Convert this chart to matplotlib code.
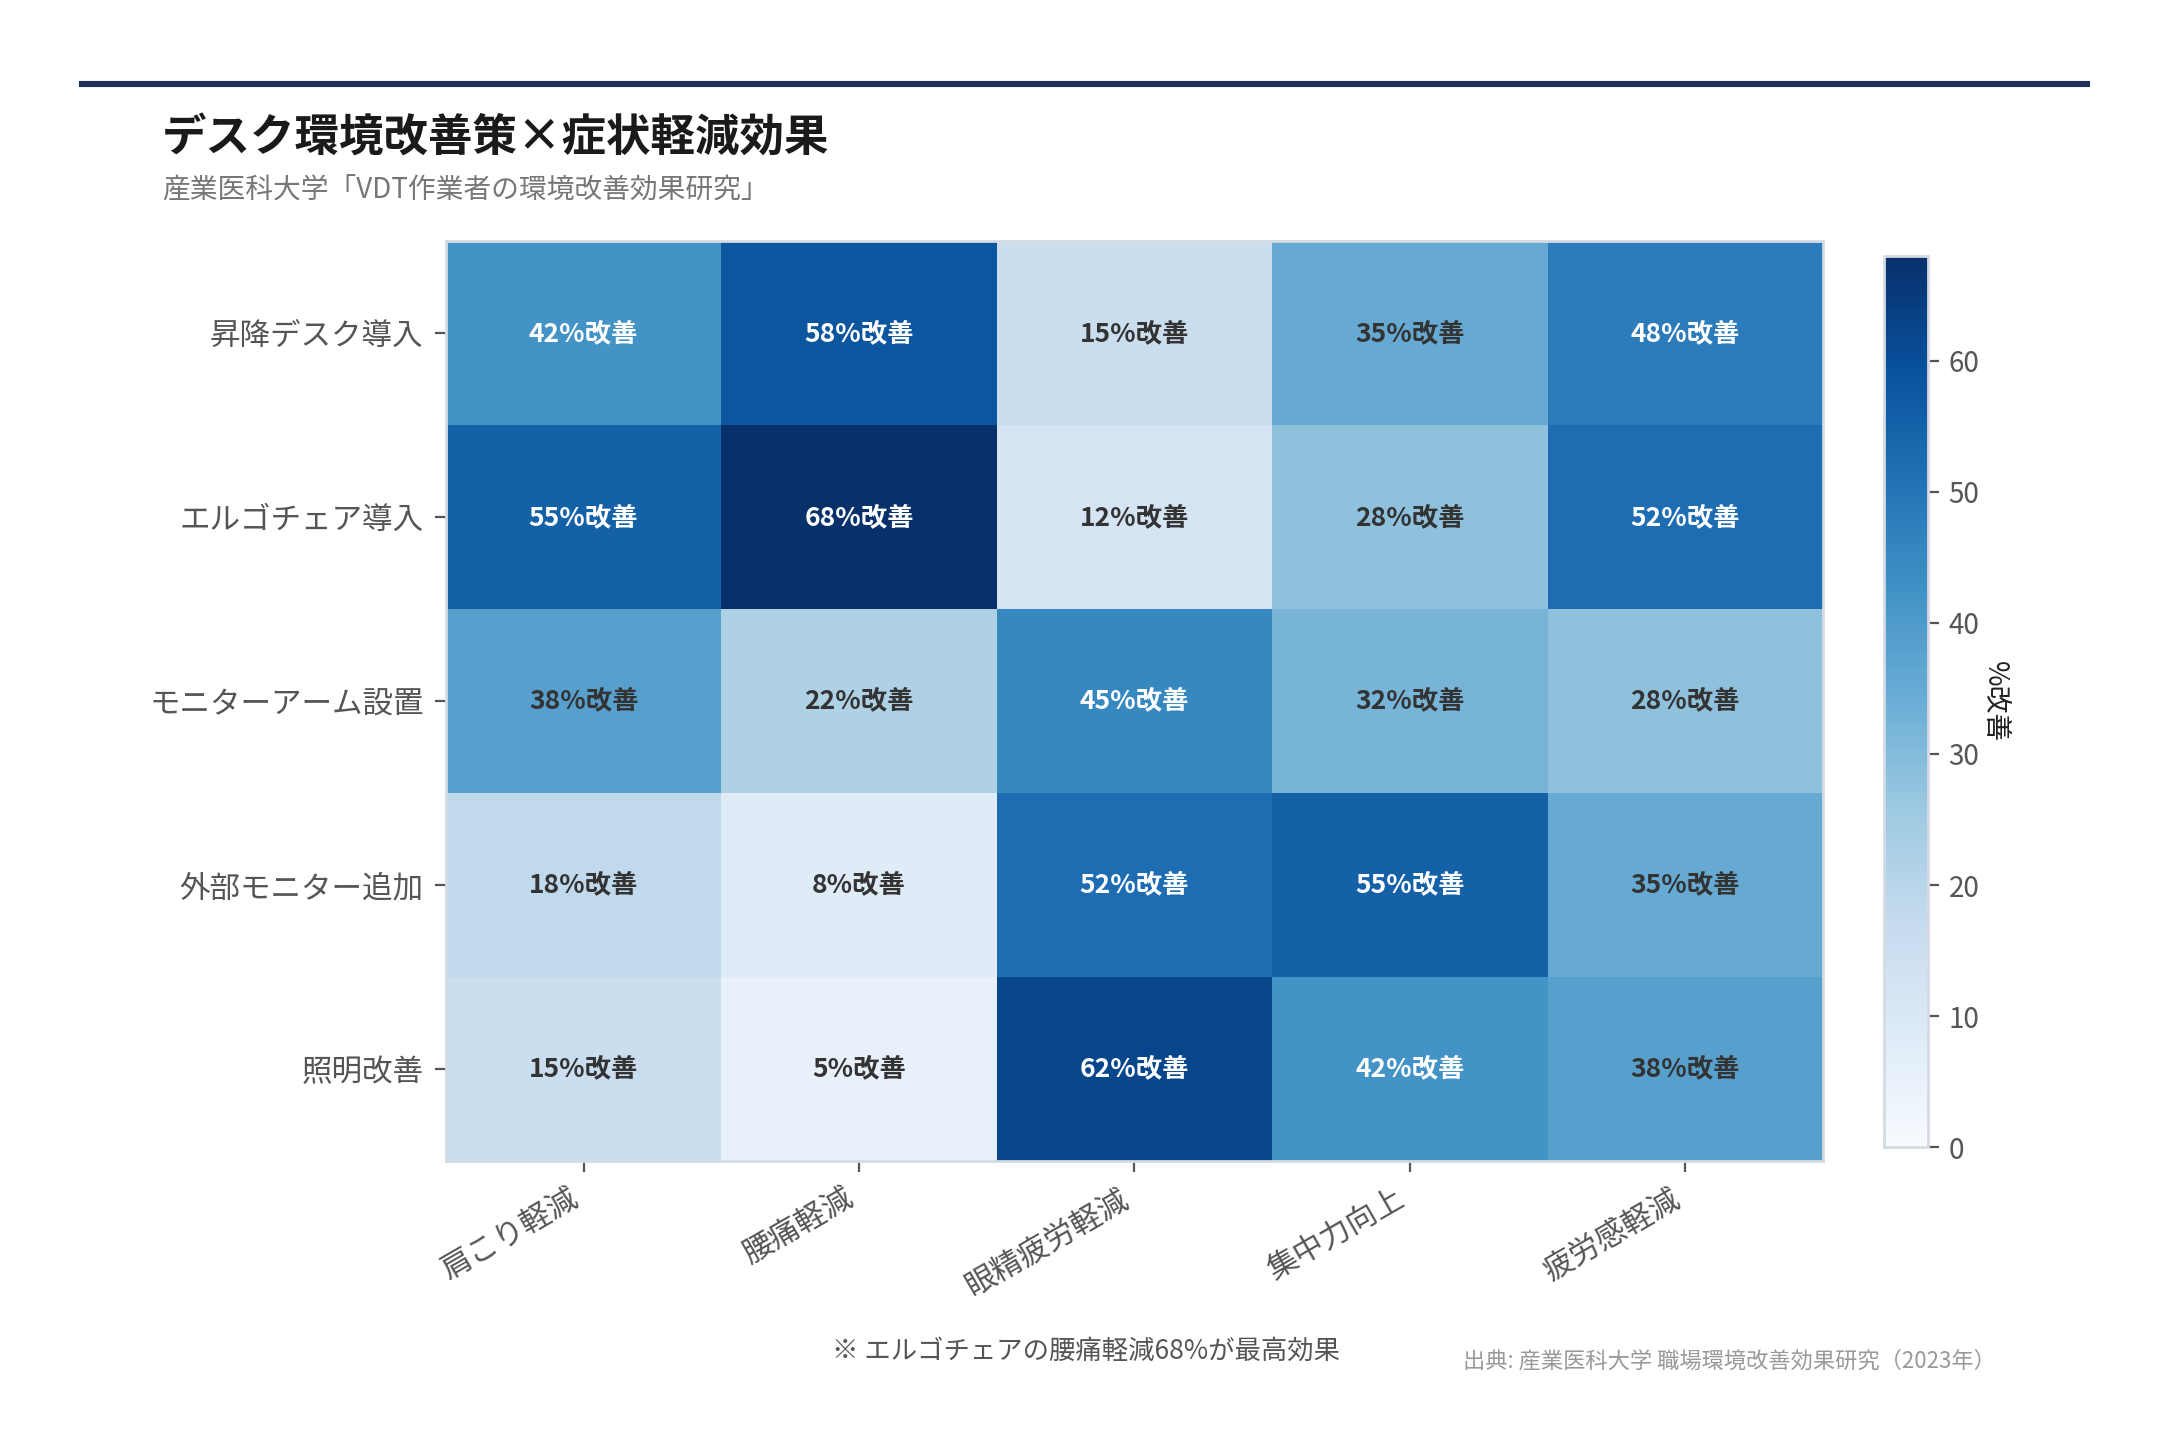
import numpy as np
import matplotlib
matplotlib.use("Agg")
import matplotlib.pyplot as plt

plt.rcParams['font.family'] = ['Noto Sans CJK JP', 'DejaVu Sans']

measures = ['昇降デスク導入', 'エルゴチェア導入', 'モニターアーム設置', '外部モニター追加', '照明改善']
symptoms = ['肩こり軽減', '腰痛軽減', '眼精疲労軽減', '集中力向上', '疲労感軽減']
desk = [42, 58, 15, 35, 48]
chair = [55, 68, 12, 28, 52]
arm = [38, 22, 45, 32, 28]
monitor = [18, 8, 52, 55, 35]
light = [15, 5, 62, 42, 38]

values = np.array([desk, chair, arm, monitor, light])

fig = plt.figure(figsize=(10.8, 7.225), dpi=200)

# top rule
fig.add_artist(plt.Line2D([0.038, 0.966], [0.942, 0.942], color='#1f3058', linewidth=2.2))

fig.text(0.075, 0.904, 'デスク環境改善策×症状軽減効果', fontsize=16, fontweight='bold',
         color='#1a1a1a', va='center')
fig.text(0.075, 0.868, '産業医科大学「VDT作業者の環境改善効果研究」', fontsize=10,
         color='#777777', va='center')

ax = fig.add_axes([0.2064, 0.1965, 0.6376, 0.6365])
cax = fig.add_axes([0.872, 0.206, 0.0205, 0.617])

im = ax.imshow(values, cmap='Blues', vmin=0, vmax=values.max(), aspect='auto')

for i in range(len(measures)):
    for j in range(len(symptoms)):
        v = values[i, j]
        ax.text(j, i, f'{v}%改善', ha='center', va='center', fontsize=9.5,
                fontweight='bold', color='white' if v > 40 else '#333333')

ax.set_xticks(range(len(symptoms)))
ax.set_xticklabels(symptoms, rotation=30, ha='right', fontsize=11, color='#555555')
ax.set_yticks(range(len(measures)))
ax.set_yticklabels(measures, fontsize=11, color='#555555')
ax.tick_params(axis='both', length=4, width=0.8, color='#555555', pad=4)
for s in ax.spines.values():
    s.set_color('#d5dbe3')
    s.set_linewidth(1.0)

cb = fig.colorbar(im, cax=cax)
cb.set_label('%改善', rotation=270, labelpad=11, fontsize=10, color='#222222')
cb.ax.tick_params(labelsize=10, labelcolor='#555555', color='#555555', length=4, width=0.8)
cb.outline.set_edgecolor('#d5dbe3')
cb.outline.set_linewidth(1.0)

fig.text(0.5026, 0.065, '※ エルゴチェアの腰痛軽減68%が最高効果', fontsize=9.5,
         color='#555555', ha='center', va='center')
fig.text(0.924, 0.058, '出典: 産業医科大学 職場環境改善効果研究（2023年）', fontsize=8,
         color='#999999', ha='right', va='center')

fig.savefig('out.png', dpi=200, facecolor='white')
